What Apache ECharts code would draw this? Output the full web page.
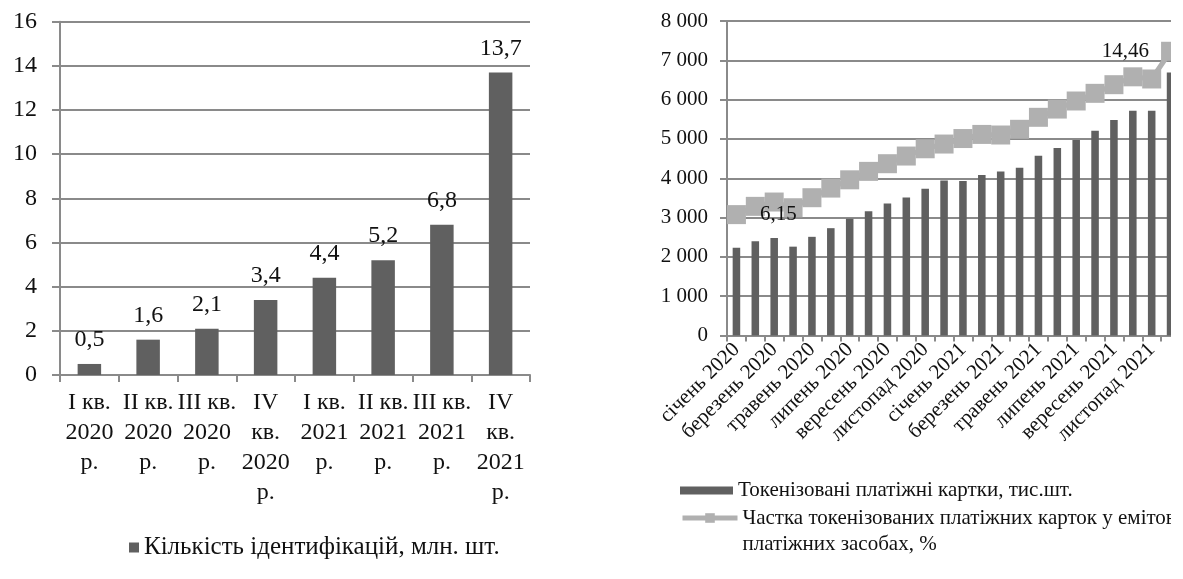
<!DOCTYPE html>
<html>
<head>
<meta charset="utf-8">
<title>Токенізація та ідентифікації</title>
<script src="https://cdn.jsdelivr.net/npm/echarts@6/dist/echarts.min.js"></script>
<style>
  html, body { margin: 0; padding: 0; background: #fff; }
  #chart { width: 1183px; height: 579px; }
</style>
</head>
<body>
<div id="chart"></div>
<script>
// Quarterly identifications (left panel)
const quarters = [
  'I кв.\n2020\nр.', 'II кв.\n2020\nр.', 'III кв.\n2020\nр.', 'IV\nкв.\n2020\nр.',
  'I кв.\n2021\nр.', 'II кв.\n2021\nр.', 'III кв.\n2021\nр.', 'IV\nкв.\n2021\nр.'
];
const identifications = [0.5, 1.6, 2.1, 3.4, 4.4, 5.2, 6.8, 13.7];
const identName = 'Кількість ідентифікацій, млн. шт.';

// Monthly tokenized cards (right panel)
const months = [
  'січень 2020', 'лютий 2020', 'березень 2020', 'квітень 2020', 'травень 2020', 'червень 2020',
  'липень 2020', 'серпень 2020', 'вересень 2020', 'жовтень 2020', 'листопад 2020', 'грудень 2020',
  'січень 2021', 'лютий 2021', 'березень 2021', 'квітень 2021', 'травень 2021', 'червень 2021',
  'липень 2021', 'серпень 2021', 'вересень 2021', 'жовтень 2021', 'листопад 2021', 'грудень 2021'
];
const tokenCards = [2230, 2400, 2480, 2260, 2510, 2730, 2970, 3160, 3360, 3510, 3730, 3940,
                    3930, 4080, 4170, 4270, 4570, 4770, 4970, 5210, 5480, 5720, 5720, 6690];
const tokenShare = [6.15, 6.57, 6.79, 6.50, 7.01, 7.50, 7.92, 8.35, 8.74, 9.13, 9.50, 9.74,
                    10.02, 10.23, 10.20, 10.49, 11.10, 11.52, 11.93, 12.32, 12.76, 13.16, 13.05, 14.46];
const cardsName = 'Токенізовані платіжні картки, тис.шт.';
const shareName = 'Частка токенізованих платіжних карток у емітованих\nплатіжних засобах, %';

const FONT = '"Liberation Serif", "Times New Roman", serif';
const TEXT = '#111';
const BAR = '#606060';
const GRID = '#8a8a8a';
const LINE = '#b0b0b0';

const comma = v => String(v).replace('.', ',');
const thousands = v => String(v).replace(/\B(?=(\d{3})+(?!\d))/g, ' ');

// Share labels only on the first and last months
const shareData = tokenShare.map((v, i) => {
  if (i === 0) return { value: v, label: { show: true, position: 'right', distance: 14 } };
  if (i === tokenShare.length - 1) return { value: v, label: { show: true, position: 'left', distance: 12 } };
  return v;
});

const chart = echarts.init(document.getElementById('chart'), null, { renderer: 'canvas' });

chart.setOption({
  animation: false,
  backgroundColor: '#fff',
  textStyle: { fontFamily: FONT, color: TEXT },
  grid: [
    { left: 60, top: 21.7, width: 470, height: 353.3 },
    { left: 727, top: 21, width: 453, height: 314.5 }
  ],
  xAxis: [
    {
      type: 'category', gridIndex: 0, data: quarters,
      axisLine: { lineStyle: { color: GRID, width: 2 } },
      axisTick: { show: true, length: 7, lineStyle: { color: GRID, width: 2 } },
      axisLabel: { fontFamily: FONT, fontSize: 24, color: TEXT, lineHeight: 30, margin: 13, interval: 0 }
    },
    {
      type: 'category', gridIndex: 1, data: months,
      axisLine: { lineStyle: { color: GRID, width: 2 } },
      axisTick: { show: true, length: 6, interval: 0, lineStyle: { color: GRID, width: 2 } },
      axisLabel: { fontFamily: FONT, fontSize: 21, color: TEXT, rotate: 45, margin: 11, interval: 1 }
    }
  ],
  yAxis: [
    {
      type: 'value', gridIndex: 0, min: 0, max: 16, interval: 2,
      axisLine: { show: true, lineStyle: { color: GRID, width: 2 } },
      axisTick: { show: true, length: 8, lineStyle: { color: GRID, width: 2 } },
      splitLine: { lineStyle: { color: GRID, width: 2 } },
      axisLabel: { fontFamily: FONT, fontSize: 24, color: TEXT, margin: 23 }
    },
    {
      type: 'value', gridIndex: 1, min: 0, max: 8000, interval: 1000,
      axisLine: { show: true, lineStyle: { color: GRID, width: 2 } },
      axisTick: { show: true, length: 7, lineStyle: { color: GRID, width: 2 } },
      splitLine: { lineStyle: { color: GRID, width: 2 } },
      axisLabel: { fontFamily: FONT, fontSize: 21, color: TEXT, margin: 19, formatter: thousands }
    },
    {
      type: 'value', gridIndex: 1, min: 0, max: 16, show: false,
      splitLine: { show: false }
    }
  ],
  legend: [
    {
      data: [identName], left: 129, top: 535, padding: 0,
      icon: 'rect', itemWidth: 10, itemHeight: 10, itemGap: 0,
      textStyle: { fontFamily: FONT, fontSize: 25, color: TEXT }
    },
    {
      data: [cardsName], left: 680, top: 480, padding: 0,
      icon: 'rect', itemWidth: 53, itemHeight: 8,
      textStyle: { fontFamily: FONT, fontSize: 21, color: TEXT }
    },
    {
      // a blank first line keeps the icon level with the first text line
      data: [shareName], left: 680, top: 479, padding: 0,
      itemWidth: 55, itemHeight: 12,
      lineStyle: { width: 5, color: LINE },
      formatter: name => '\u00a0\n' + name,
      textStyle: { fontFamily: FONT, fontSize: 21, color: TEXT, lineHeight: 26 }
    }
  ],
  series: [
    {
      name: identName, type: 'bar', xAxisIndex: 0, yAxisIndex: 0,
      data: identifications, barWidth: '40%',
      itemStyle: { color: BAR },
      label: {
        show: true, position: 'top', distance: 12,
        fontFamily: FONT, fontSize: 24, color: TEXT,
        formatter: p => comma(p.value)
      }
    },
    {
      name: cardsName, type: 'bar', xAxisIndex: 1, yAxisIndex: 1,
      data: tokenCards, barWidth: '40%',
      itemStyle: { color: BAR }
    },
    {
      name: shareName, type: 'line', xAxisIndex: 1, yAxisIndex: 2,
      data: shareData, z: 5,
      symbol: 'rect', symbolSize: 19, showAllSymbol: true,
      lineStyle: { color: LINE, width: 5 },
      itemStyle: { color: LINE },
      label: {
        show: false, fontFamily: FONT, fontSize: 21, color: TEXT,
        formatter: p => comma(p.value)
      }
    }
  ],
  // page edge: the right panel ends at the picture border
  graphic: [
    { type: 'rect', z: 100, shape: { x: 1171, y: 0, width: 12, height: 579 }, style: { fill: '#fff' } }
  ]
});
</script>
</body>
</html>
